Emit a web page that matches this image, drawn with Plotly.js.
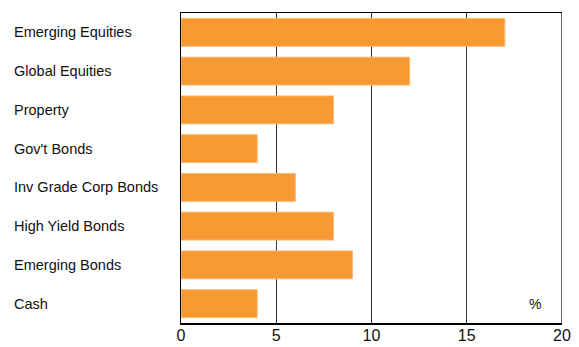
<!DOCTYPE html>
<html><head><meta charset="utf-8">
<script src="https://cdn.plot.ly/plotly-3.0.1.min.js"></script>
<style>body{margin:0;padding:0;background:#fff}#chart{width:579px;height:347px}</style>
</head><body><div id="chart"></div>
<script>
const categories = ["Emerging Equities","Global Equities","Property","Gov't Bonds","Inv Grade Corp Bonds","High Yield Bonds","Emerging Bonds","Cash"];
const values = [17, 12, 8, 4, 6, 8, 9, 4];
const xTicks = [0, 5, 10, 15, 20];
const unitLabel = "%";

const font = "Liberation Sans, Arial, sans-serif";
const trace = {
  type: "bar", orientation: "h", x: values, y: categories,
  marker: {color: "#F79A32", line: {color: "#FBB870", width: 1}},
  width: 0.72, hoverinfo: "none"
};
const annotations = categories.map(c => ({
  xref: "paper", yref: "y", x: -0.444, y: c, text: c, showarrow: false,
  xanchor: "left", yanchor: "middle", font: {family: font, size: 14.5, color: "#111"}
}));
annotations.push({xref: "x", yref: "y", x: 18.6, y: categories[categories.length-1], text: unitLabel,
  showarrow: false, xanchor: "center", yanchor: "middle", font: {family: font, size: 14, color: "#111"}});
const layout = {
  width: 579, height: 347,
  margin: {l: 181, r: 17, t: 13, b: 24},
  paper_bgcolor: "#fff", plot_bgcolor: "#fff",
  showlegend: false,
  xaxis: {range: [0, 20], tickvals: xTicks, ticktext: xTicks.map(String), showgrid: true,
    gridcolor: "#333", gridwidth: 1, zeroline: false, showline: true, linecolor: "#000", linewidth: 1.5,
    mirror: true, ticks: "", ticklabelstandoff: -3, tickfont: {family: font, size: 16, color: "#111"}, fixedrange: true},
  yaxis: {type: "category", autorange: "reversed", showticklabels: false, showgrid: false,
    zeroline: false, showline: true, linecolor: "#000", linewidth: 1.5, ticks: "", fixedrange: true},
  shapes: [{type: "line", xref: "x", yref: "paper", x0: 20, x1: 20, y0: 0, y1: 1, line: {color: "#666", width: 2}}],
  annotations: annotations
};
Plotly.newPlot("chart", [trace], layout, {displayModeBar: false, staticPlot: true});
</script></body></html>
